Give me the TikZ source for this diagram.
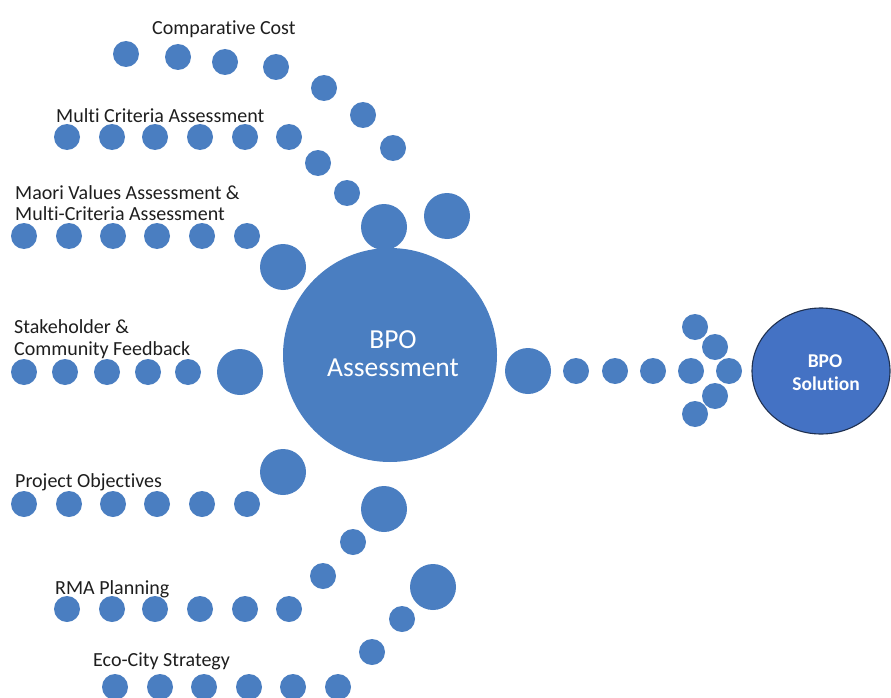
\documentclass[tikz,border=0pt]{standalone}
\usepackage{fontspec}
\setmainfont{Carlito}[Ligatures=NoCommon]
\usetikzlibrary{shapes.geometric}
\definecolor{dotblue}{HTML}{4A7EC1}
\definecolor{solblue}{HTML}{4472C4}
\definecolor{solborder}{HTML}{1F3050}
\definecolor{labelgray}{HTML}{1E1E1E}
\begin{document}
\begin{tikzpicture}[x=1pt,y=-1pt,
  dot/.style={circle,fill=dotblue,draw=none,inner sep=0pt,minimum size=26pt},
  bigdot/.style={circle,fill=dotblue,draw=none,inner sep=0pt,minimum size=46pt},
  lbl/.style={anchor=base west,inner sep=0pt,text=labelgray,font=\fontsize{20}{22}\selectfont},
  maintxt/.style={anchor=base,inner sep=0pt,text=white,font=\fontsize{27.5}{30}\selectfont},
  soltxt/.style={anchor=base,inner sep=0pt,text=white,font=\bfseries\fontsize{19.5}{22}\selectfont}]
\useasboundingbox (0,0) rectangle (891,698);

% main circle
\node[circle,fill=dotblue,inner sep=0pt,minimum size=214pt] (main) at (390,355) {};
\node[maintxt] (mt1) at (393,348) {BPO};
\node[maintxt] (mt2) at (393,376) {Assessment};

% Comparative Cost
\node[lbl] (l1) at (152,35) {Comparative Cost};
\foreach \x/\y [count=\i] in {126/54,178/57,225/62,276/67,324/88,363/115,393/148}
  \node[dot] (a\i) at (\x,\y) {};
\node[bigdot] (A) at (447,216) {};

% Multi Criteria Assessment
\node[lbl] (l2) at (56,123) {Multi Criteria Assessment};
\foreach \x/\y [count=\i] in {67/137,112/137,155/137,200/137,245/137,289/137,318/163,347/193}
  \node[dot] (b\i) at (\x,\y) {};
\node[bigdot] (B) at (384,227) {};

% Maori
\node[lbl] (l3a) at (15,199) {Maori Values Assessment \&};
\node[lbl] (l3b) at (15,220) {Multi-Criteria Assessment};
\foreach \x [count=\i] in {24,69,113,157,202,247}
  \node[dot] (c\i) at (\x,236) {};
\node[bigdot] (C) at (283,267) {};

% Stakeholder
\node[lbl] (l4a) at (14,333) {Stakeholder \&};
\node[lbl] (l4b) at (14,355) {Community Feedback};
\foreach \x [count=\i] in {24,65,107,148,188}
  \node[dot] (d\i) at (\x,372) {};
\node[bigdot] (D) at (240,372) {};

% Project Objectives
\node[lbl] (l5) at (15,487) {Project Objectives};
\foreach \x [count=\i] in {24,69,113,157,202,247}
  \node[dot] (e\i) at (\x,504) {};
\node[bigdot] (E) at (283,472) {};

% RMA Planning
\node[lbl] (l6) at (55,594) {RMA Planning};
\foreach \x/\y [count=\i] in {67/609,112/609,155/609,200/609,245/609,289/609,323/576,353/542}
  \node[dot] (f\i) at (\x,\y) {};
\node[bigdot] (F) at (384,509) {};

% Eco-City Strategy
\node[lbl] (l7) at (93,666) {Eco-City Strategy};
\foreach \x/\y [count=\i] in {115/687,160/687,204/687,249/687,293/687,338/687,372/652,402/619}
  \node[dot] (g\i) at (\x,\y) {};
\node[bigdot] (G) at (433,587) {};

% output arrow
\node[bigdot] (H) at (528,371) {};
\foreach \x/\y [count=\i] in {576/371,615/371,653/371,691/371,729/371,695/327,715/347,715/396,695/414}
  \node[dot] (h\i) at (\x,\y) {};

% solution
\node[ellipse,fill=solblue,draw=solborder,line width=1.1pt,minimum width=138pt,minimum height=126pt,inner sep=0pt] (sol) at (821,371) {};
\node[soltxt] (st1) at (825,367) {BPO};
\node[soltxt] (st2) at (826,390) {Solution};
\end{tikzpicture}
\end{document}
